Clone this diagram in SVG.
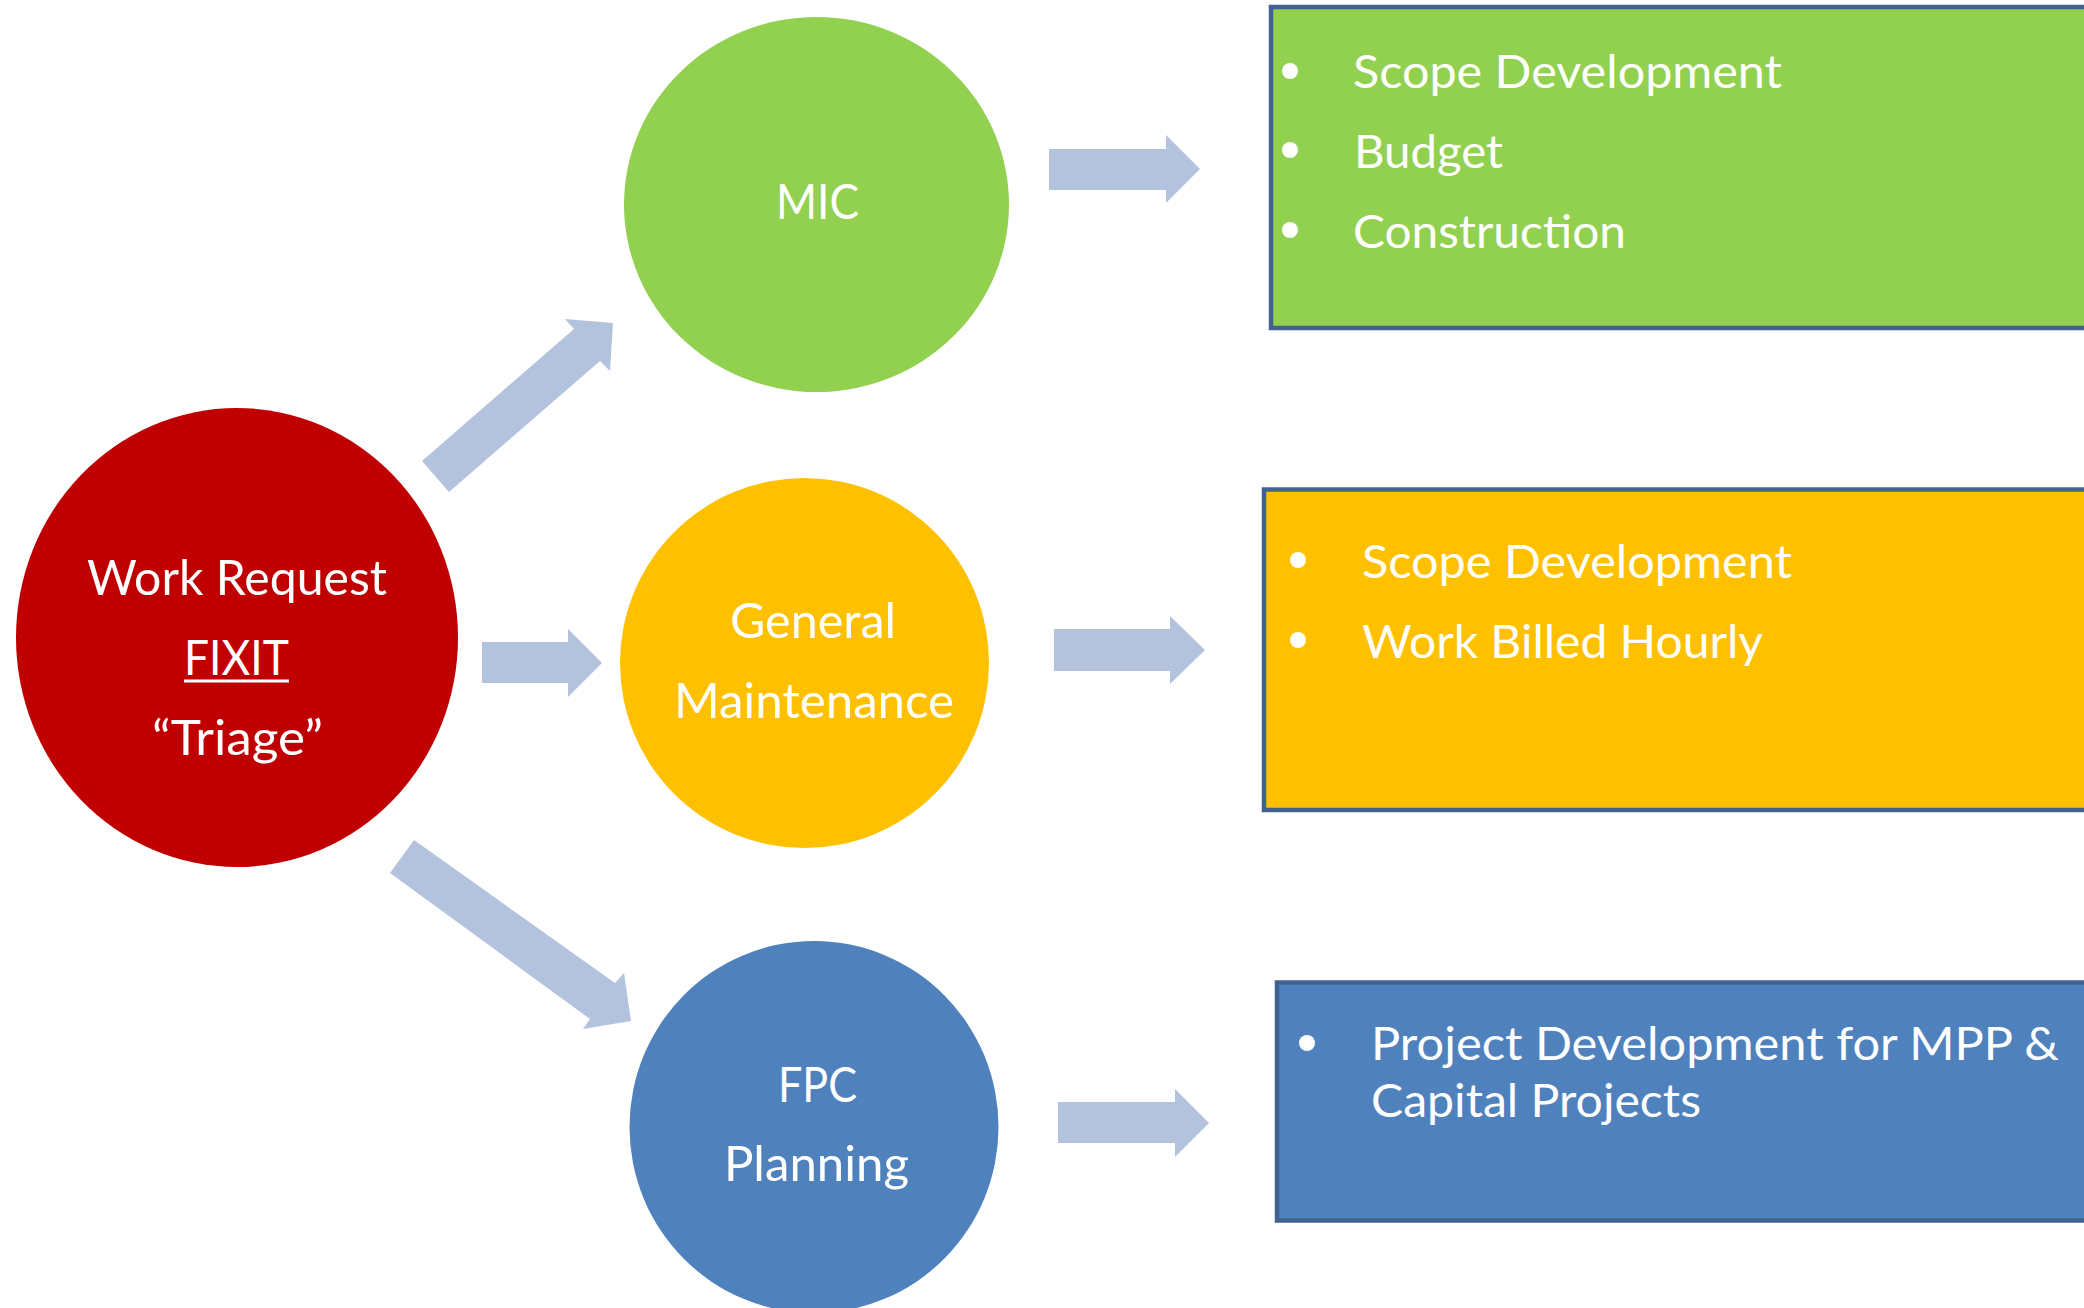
<svg xmlns="http://www.w3.org/2000/svg" width="2084" height="1308" viewBox="0 0 2084 1308">
<style>
.t{font-family:Lato,"Open Sans","Liberation Sans",sans-serif;fill:#ffffff}
.c{font-size:48px}
.b{font-size:47px}
.arr{fill:#b3c3dd}
.box{stroke:#41628f;stroke-width:4.5}
.bul{fill:#ffffff}
</style>
<rect width="2084" height="1308" fill="#ffffff"/>
<g id="connectors">
<polygon class="arr" points="422,461 574,329 565,319 613,323 610,371 600,361 449,492"/>
<polygon class="arr" points="482,642 568,642 568,629 602,663 568,697 568,683 482,683"/>
<polygon class="arr" points="414,840 615,983 624,973 631,1021 583,1029 590,1019 390,873"/>
<polygon class="arr" points="1049,149 1166,149 1166,135 1200,169 1166,203 1166,190 1049,190"/>
<polygon class="arr" points="1054,629 1170,629 1170,616 1205,650 1170,684 1170,671 1054,671"/>
<polygon class="arr" points="1058,1102 1175,1102 1175,1089 1209,1123 1175,1157 1175,1143 1058,1143"/>
</g>
<g id="work-request">
<ellipse cx="237" cy="637.5" rx="221" ry="229.5" fill="#c00000"/>
<text class="t c" x="87" y="595" textLength="300" lengthAdjust="spacingAndGlyphs">Work Request</text>
<text class="t c" x="184" y="675" textLength="105" lengthAdjust="spacingAndGlyphs">FIXIT</text>
<rect x="184" y="679.5" width="105" height="3" fill="#ffffff"/>
<text class="t c" x="152" y="755" textLength="171" lengthAdjust="spacingAndGlyphs">“Triage”</text>
</g>
<g id="mic">
<ellipse cx="816.5" cy="204.5" rx="192.5" ry="187.5" fill="#92d050"/>
<text class="t c" x="776" y="219" textLength="83" lengthAdjust="spacingAndGlyphs">MIC</text>
</g>
<g id="general-maintenance">
<ellipse cx="804.5" cy="663" rx="184.5" ry="185" fill="#ffc000"/>
<text class="t c" x="730" y="638" textLength="166" lengthAdjust="spacingAndGlyphs">General</text>
<text class="t c" x="674" y="718" textLength="280" lengthAdjust="spacingAndGlyphs">Maintenance</text>
</g>
<g id="fpc-planning">
<ellipse cx="814" cy="1127" rx="184.5" ry="186" fill="#4f81bd"/>
<text class="t c" x="778" y="1102" textLength="79" lengthAdjust="spacingAndGlyphs">FPC</text>
<text class="t c" x="724" y="1181" textLength="185" lengthAdjust="spacingAndGlyphs">Planning</text>
</g>
<g id="mic-box">
<rect class="box" x="1271" y="7" width="840" height="321" fill="#92d050"/>
<circle class="bul" cx="1290" cy="71" r="8"/>
<circle class="bul" cx="1290" cy="150" r="8"/>
<circle class="bul" cx="1290" cy="230" r="8"/>
<text class="t b" x="1353" y="88" textLength="429" lengthAdjust="spacingAndGlyphs">Scope Development</text>
<text class="t b" x="1354" y="168" textLength="149" lengthAdjust="spacingAndGlyphs">Budget</text>
<text class="t b" x="1353" y="248" textLength="273" lengthAdjust="spacingAndGlyphs">Construction</text>
</g>
<g id="gm-box">
<rect class="box" x="1264" y="489.5" width="850" height="320.5" fill="#ffc000"/>
<circle class="bul" cx="1298" cy="560" r="8"/>
<circle class="bul" cx="1298" cy="640" r="8"/>
<text class="t b" x="1362" y="578" textLength="430" lengthAdjust="spacingAndGlyphs">Scope Development</text>
<text class="t b" x="1362" y="658" textLength="401" lengthAdjust="spacingAndGlyphs">Work Billed Hourly</text>
</g>
<g id="fpc-box">
<rect class="box" x="1277" y="982.5" width="840" height="238" fill="#4f81bd"/>
<circle class="bul" cx="1307" cy="1043" r="8"/>
<text class="t b" x="1371" y="1060" textLength="688" lengthAdjust="spacingAndGlyphs">Project Development for MPP &amp;</text>
<text class="t b" x="1371" y="1117" textLength="330" lengthAdjust="spacingAndGlyphs">Capital Projects</text>
</g>
</svg>
